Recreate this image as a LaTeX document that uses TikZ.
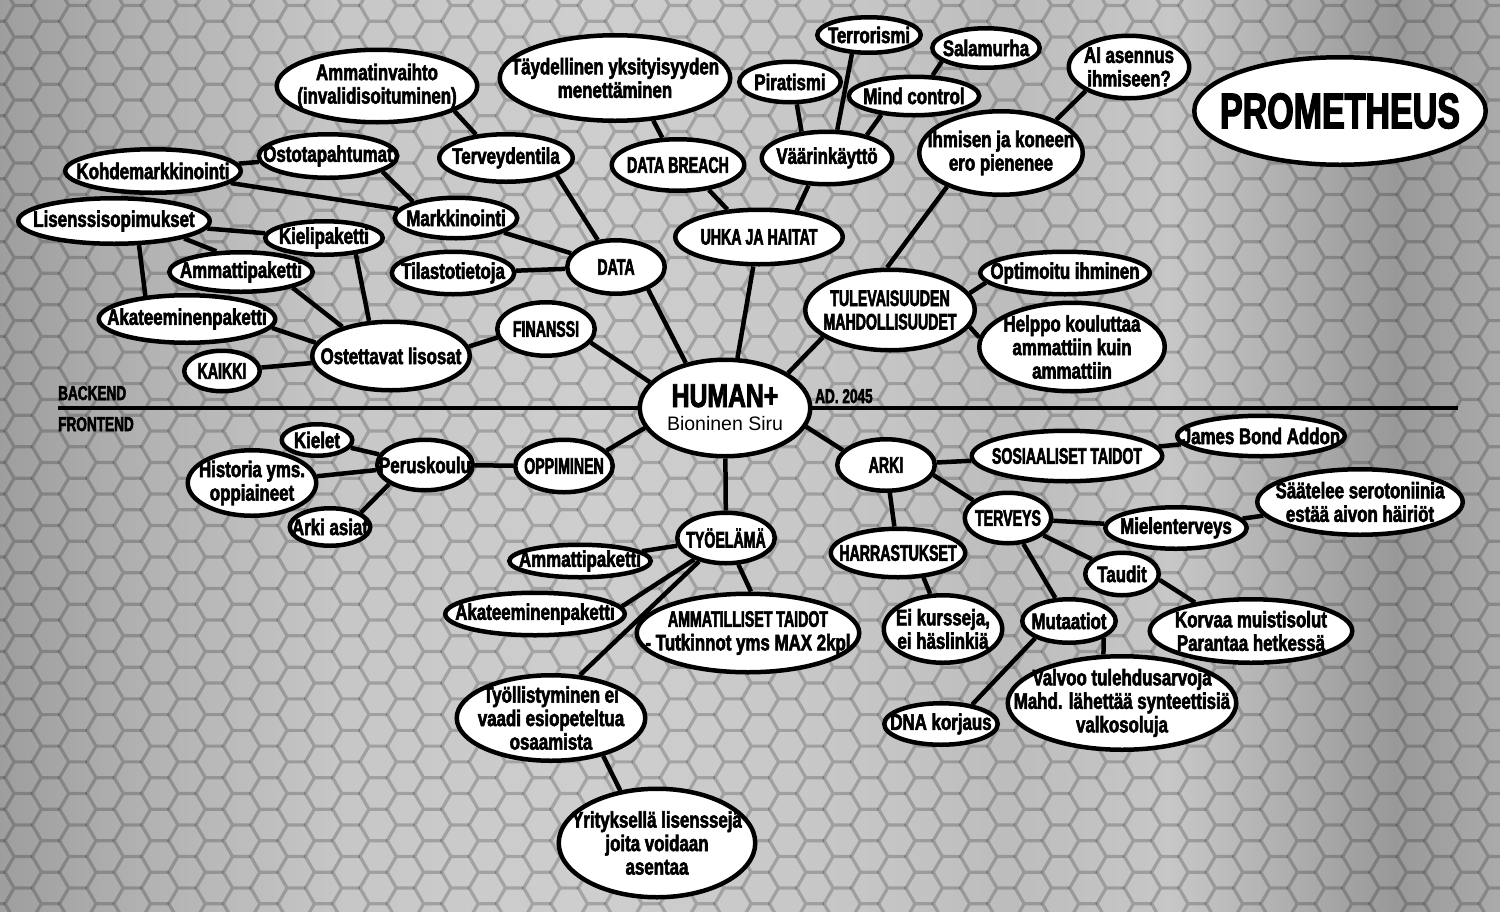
\documentclass[tikz,border=0pt]{standalone}
\usepackage{fontspec}
\usetikzlibrary{shapes.geometric}

% condensed heavy faces for the bubble texts
\newfontfamily\cf{Liberation Sans Bold}[FakeStretch=0.75,FakeBold=2.5]
\newfontfamily\cc{Liberation Sans Bold}[FakeStretch=0.63,FakeBold=2.5]
\newfontfamily\cp{Liberation Sans Bold}[FakeStretch=0.68,FakeBold=2.5]
\newfontfamily\rf{Liberation Sans}

\pgfdeclarelayer{back}
\pgfdeclarelayer{links}
\pgfsetlayers{back,links,main}

% brushed-metal backdrop, bands running from left to right
\pgfdeclarehorizontalshading{metal}{100bp}{%
  color(0bp)=(black!38); color(25bp)=(black!38);
  color(30bp)=(black!30); color(36.5bp)=(black!22);
  color(45bp)=(black!19); color(55bp)=(black!23);
  color(58.5bp)=(black!26); color(64bp)=(black!22);
  color(71.5bp)=(black!40); color(75bp)=(black!33);
  color(100bp)=(black!33)}

\tikzset{
  bub/.style={ellipse, draw=black, fill=white, line width=4.5pt, inner sep=0pt},
  lbl/.style={align=center, inner sep=0pt, text=black},
  m/.style={font={\cf\fontsize{22.5}{23.5}\selectfont}},
  c/.style={font={\cc\fontsize{22.5}{23.5}\selectfont}},
  side/.style={font={\cp\fontsize{20}{22}\selectfont}, inner sep=0pt},
  link/.style={line width=4.5pt, draw=black},
  rule/.style={line width=4pt, draw=black},
  hexline/.style={line width=3.2pt, draw=black, draw opacity=0.2},
}

% name, x, y, width, height, text style, text
\newcommand\bub[7]{%
  \node[bub, minimum width={(#4-4.5)*1pt}, minimum height={(#5-4.5)*1pt}] (#1) at (#2,#3) {};
  \node[lbl,#6] (#1-t) at (#1.center) {#7};}

\begin{document}
\begin{tikzpicture}[x=1pt,y=-1pt]
\useasboundingbox (0,0) rectangle (1500,911);

% ---------- backdrop: gradient and honeycomb ----------
\begin{pgfonlayer}{back}
  \shade[shading=metal] (0,0) rectangle (1500,911);
  \begin{scope}
    \clip (0,0) rectangle (1500,911);
    \foreach \k in {-2,...,55}{
      \pgfmathsetmacro\cx{50.5+27.3*\k}
      \pgfmathsetmacro\oy{mod(abs(\k),2)==1 ? 15.76 : 0}
      \draw[hexline] \foreach \j in {-21,...,10}{
        ({\cx+9.1},{635.8+\oy+31.52*\j-15.76}) -- ++(-18.2,0) -- ++(-9.1,15.76) -- ++(9.1,15.76)
      };
    }
  \end{scope}
\end{pgfonlayer}

% ---------- backend side ----------
\bub{ammat}{377}{86}{205}{77}{m}{Ammatinvaihto\\(invalidisoituminen)}
\bub{osto}{328}{156}{143}{48}{m}{Ostotapahtumat}
\bub{kohde}{153}{171}{180}{48}{m}{Kohdemarkkinointi}
\bub{lisen}{114}{221}{196}{50}{m}{Lisenssisopimukset}
\bub{kieli}{324}{238}{122}{38}{m}{Kielipaketti}
\bub{markk}{456}{218}{127}{45}{m}{Markkinointi}
\bub{terv}{506}{158}{138}{52}{m}{Terveydentila}
\bub{ammp1}{241}{272}{148}{44}{m}{Ammattipaketti}
\bub{tilasto}{453}{273}{127}{47}{m}{Tilastotietoja}
\bub{akat1}{187}{319}{181}{52}{m}{Akateeminenpaketti}
\bub{kaikki}{222}{371}{80}{45}{c}{KAIKKI}
\bub{ostett}{391}{356}{162}{73}{m}{Ostettavat lisosat}
\bub{finanssi}{546}{329}{102}{58}{c}{FINANSSI}
\bub{data}{616}{267}{102}{58}{c}{DATA}
\bub{tayd}{615}{78}{235}{90}{m}{Täydellinen yksityisyyden\\menettäminen}
\bub{breach}{678}{165}{137}{56}{c}{DATA BREACH}
\bub{uhka}{759}{237}{172}{59}{c}{UHKA JA HAITAT}
\bub{pirat}{790}{82}{106}{45}{m}{Piratismi}
\bub{terror}{869}{35}{108}{40}{m}{Terrorismi}
\bub{mind}{914}{96}{135}{43}{m}{Mind control}
\bub{salam}{986}{48}{112}{44}{m}{Salamurha}
\bub{vaar}{827}{158}{135}{57}{m}{Väärinkäyttö}
\bub{ihm}{1001}{153}{168}{88}{m}{Ihmisen ja koneen\\ero pienenee}
\bub{ai}{1129}{67}{125}{67}{m}{AI asennus\\ihmiseen?}
\bub{tulev}{890}{310}{174}{85}{c}{TULEVAISUUDEN\\MAHDOLLISUUDET}
\bub{optim}{1065}{273}{174}{47}{m}{Optimoitu ihminen}
\bub{helppo}{1072}{347}{190}{93}{m}{Helppo kouluttaa\\ammattiin kuin\\ammattiin}

% title
\node[bub, minimum width=291.5pt, minimum height=107.5pt] (prom) at (1340,111) {};
\node[lbl, font={\cp\fontsize{50}{50}\selectfont}] (prom-t) at (prom.center) {PROMETHEUS};

% hub
\node[bub, minimum width=170.5pt, minimum height=96.5pt] (human) at (725,408) {};
\node[lbl, anchor=base, text depth=0pt, font={\cf\fontsize{33}{33}\selectfont}] (human-t) at (725,407) {HUMAN+};
\node[lbl, anchor=base, text height=13pt, font={\rf\fontsize{19.5}{20}\selectfont}] (human-s) at (725,430) {Bioninen Siru};

% ---------- frontend side ----------
\bub{kielet}{317}{440}{75}{36}{m}{Kielet}
\bub{hist}{252}{483}{133}{70}{m}{Historia yms.\\oppiaineet}
\bub{perus}{425}{465}{100}{55}{m}{Peruskoulu}
\bub{arkias}{330}{527}{85}{42}{m}{Arki asiat}
\bub{oppim}{564}{466}{102}{57}{c}{OPPIMINEN}
\bub{tyo}{726}{538}{102}{55}{c}{TYÖELÄMÄ}
\bub{ammp2}{580}{561}{146}{37}{m}{Ammattipaketti}
\bub{akat2}{535}{614}{184}{47}{m}{Akateeminenpaketti}
\bub{ammtaid}{748}{633}{227}{83}{m}{{\cc AMMATILLISET TAIDOT}\\- Tutkinnot yms MAX 2kpl}
\bub{tyoll}{551}{718}{193}{90}{m}{Työllistyminen ei\\vaadi esiopeteltua\\osaamista}
\bub{yrit}{657}{843}{201}{113}{m}{Yrityksellä lisenssejä\\joita voidaan\\asentaa}
\bub{arki}{886}{465}{102}{56}{c}{ARKI}
\bub{sos}{1067}{456}{195}{55}{c}{SOSIAALISET TAIDOT}
\bub{james}{1261}{436}{172}{45}{m}{James Bond Addon}
\bub{tervey}{1008}{518}{91}{55}{c}{TERVEYS}
\bub{mielen}{1176}{528}{146}{46}{m}{Mielenterveys}
\bub{harras}{898}{553}{139}{53}{c}{HARRASTUKSET}
\bub{taudit}{1122}{574}{78}{47}{m}{Taudit}
\bub{eikurs}{943}{629}{123}{72}{m}{Ei kursseja,\\ei häslinkiä}
\bub{mutaat}{1069}{621}{98}{48}{m}{Mutaatiot}
\bub{korvaa}{1251}{631}{207}{68}{m}{Korvaa muistisolut\\Parantaa hetkessä}
\bub{valvoo}{1122}{703}{233}{98}{m}{Valvoo tulehdusarvoja\\Mahd. lähettää synteettisiä\\valkosoluja}
\bub{dna}{941}{724}{118}{46}{m}{DNA korjaus}
\bub{saat}{1360}{502}{210}{70}{m}{Säätelee serotoniinia\\estää aivon häiriöt}

% ---------- divider and its captions ----------
\coordinate (ruleL) at (58,408);
\coordinate (ruleR) at (1458,408);
\node[side, anchor=base west] (backend) at (58,400) {BACKEND};
\node[side, anchor=base west] (frontend) at (58,431) {FRONTEND};
\node[side, anchor=base west] (year) at (815,403) {AD. 2045};

% ---------- connectors ----------
\begin{pgfonlayer}{links}
  \draw[rule] (ruleL) -- (ruleR);
  % backend
  \draw[link] (kohde) -- (osto);
  \draw[link] (kohde) -- (markk);
  \draw[link] (osto.-16) -- (markk.159);
  \draw[link] (ammat.-18) -- (terv.142);
  \draw[link] (terv.-19) -- (data.124);
  \draw[link] (markk) -- (data);
  \draw[link] (tilasto) -- (data);
  \draw[link] (data.-35) -- (human.131);
  \draw[link] (tayd.-48) -- (breach.120);
  \draw[link] (breach.-39) -- (uhka.139);
  \draw[link] (vaar.-124) -- (uhka.35);
  \draw[link] (pirat.-73) -- (vaar.134);
  \draw[link] (terror.-132) -- (vaar.70);
  \draw[link] (mind.-150) -- (vaar.30);
  \draw[link] (salam.-163) -- (mind.48);
  \draw[link] (uhka.-101) -- (human.76);
  \draw[link] (ai.-151) -- (ihm.31);
  \draw[link] (ihm.-148) -- (tulev.94);
  \draw[link] (tulev.12) -- (optim.-173);
  \draw[link] (tulev.-12) -- (helppo.174);
  \draw[link] (tulev.-158) -- (human.29);
  \draw[link] (finanssi.-17) -- (human.161);
  \draw[link] (ostett.7) -- (finanssi.-170);
  \draw[link] (kaikki) -- (ostett);
  \draw[link] (akat1.-6) -- (ostett.170);
  \draw[link] (ammp1.-17) -- (ostett.149);
  \draw[link] (kieli.-27) -- (ostett.122);
  \draw[link] (lisen) -- (kieli);
  \draw[link] (lisen.-14) -- (ammp1.140);
  \draw[link] (lisen.-44) -- (akat1.151);
  % frontend
  \draw[link] (human.-166) -- (oppim.20);
  \draw[link] (oppim) -- (perus);
  \draw[link] (perus) -- (kielet);
  \draw[link] (perus) -- (hist);
  \draw[link] (perus.-152) -- (arkias.25);
  \draw[link] (human) -- (tyo);
  \draw[link] (tyo) -- (ammp2);
  \draw[link] (tyo.-146) -- (akat2.5);
  \draw[link] (tyo.-139) -- (tyoll.56);
  \draw[link] (tyo.-65) -- (ammtaid.86);
  \draw[link] (tyoll.-36) -- (yrit.125);
  \draw[link] (human.-13) -- (arki.161);
  \draw[link] (arki) -- (sos);
  \draw[link] (sos) -- (james);
  \draw[link] (arki.-12) -- (tervey.153);
  \draw[link] (arki) -- (harras);
  \draw[link] (harras.-44) -- (eikurs.110);
  \draw[link] (tervey) -- (mielen);
  \draw[link] (mielen) -- (saat);
  \draw[link] (tervey) -- (taudit);
  \draw[link] (tervey) -- (mutaat);
  \draw[link] (taudit.-9) -- (korvaa.153);
  \draw[link] (mutaat.-153) -- (dna.32);
  \draw[link] (mutaat.-26) -- (valvoo.111);
\end{pgfonlayer}
\end{tikzpicture}
\end{document}
